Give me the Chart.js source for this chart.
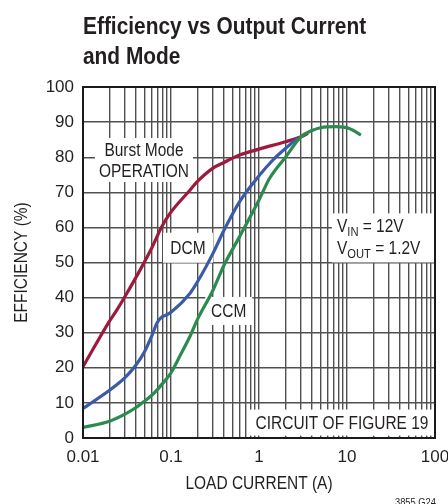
<!DOCTYPE html>
<html>
<head>
<meta charset="utf-8">
<script src="https://cdn.jsdelivr.net/npm/chart.js@4.4.1/dist/chart.umd.min.js"></script>
<style>
  html, body { margin: 0; padding: 0; background: #fff; }
  canvas { display: block; }
</style>
</head>
<body>
<canvas id="chart" width="448" height="504"></canvas>
<script>
// efficiency curves
const burstCurrent = [0.01, 0.02, 0.0243, 0.0328, 0.0446, 0.06, 0.0785, 0.0974, 0.164, 0.2, 0.3, 0.4, 0.6, 1, 2, 3, 3.6]
const burstEff = [20.3, 33.3, 36.5, 42, 47.9, 54, 60.2, 64, 70.6, 73.1, 76.9, 78.5, 80.6, 82.3, 84.4, 85.8, 86.8]

const dcmCurrent = [0.01, 0.02, 0.03, 0.04, 0.05, 0.06, 0.07, 0.08, 0.09, 0.1, 0.164, 0.2, 0.3, 0.4, 0.6, 1, 1.44, 2, 2.76]
const dcmEff = [8.4, 13.6, 17.2, 20.8, 24.6, 28.9, 33, 34.6, 35.1, 35.8, 41.2, 44.5, 52.6, 59.2, 67.3, 74.7, 79.2, 82.5, 85.4]

const ccmCurrent = [0.01, 0.02, 0.03, 0.04, 0.05, 0.06, 0.07, 0.08, 0.09, 0.1, 0.1265, 0.164, 0.2, 0.3, 0.4, 0.6, 1, 1.32, 2, 3, 4, 5, 7.5, 10.6, 14.4]
const ccmEff = [3.0, 4.8, 6.8, 8.7, 10.5, 12.1, 13.8, 15.5, 17.0, 18.6, 23.4, 28.9, 33.8, 42.1, 49.2, 57.3, 67.8, 74, 80, 85.8, 87.6, 88.4, 88.7, 88.2, 86.3]

const xDecades = [0.01, 0.1, 1, 10, 100]
const xDecadeLabels = ['0.01', '0.1', '1', '10', '100']
const yTicks = [0, 10, 20, 30, 40, 50, 60, 70, 80, 90, 100]

const titleLines = ['Efficiency vs Output Current', 'and Mode']
const xTitle = 'LOAD CURRENT (A)'
const yTitle = 'EFFICIENCY (%)'
const figureTag = '3855 G24'

const textColor = '#231f20'
const gridColor = '#505050'
const SANS = '"Liberation Sans", Arial, sans-serif'
const NARROW_X = 0.86  // the datasheet type is a narrow Helvetica

// all grid positions: 1..9 of every decade
const xGrid = []
xDecades.slice(0, -1).forEach(d => { for (let m = 1; m < 10; m++) xGrid.push(+(d * m).toPrecision(3)) })
xGrid.push(100)

const toPoints = (xs, ys) => xs.map((x, i) => ({ x, y: ys[i] }))

function drawScaled(ctx, str, x, y, font, align, sx, rot) {
    ctx.save()
    ctx.translate(x, y)
    if (rot) ctx.rotate(rot)
    ctx.scale(sx, 1)
    ctx.font = font
    ctx.textAlign = align
    ctx.textBaseline = 'alphabetic'
    ctx.fillText(str, 0, 0)
    ctx.restore()
}

// text boxes, centre given in data units, size in px
const notes = [
    { x: 0.0493, y: 79.2, w: 98, h: 44, lines: ['Burst Mode', 'OPERATION'] },
    { x: 0.156, y: 54.2, w: 50, h: 30, lines: ['DCM'] },
    { x: 0.453, y: 36.2, w: 47, h: 28, lines: ['CCM'] },
    { x: 8.77, y: 4.4, w: 186, h: 26, lines: ['CIRCUIT OF FIGURE 19'] },
]
const condBox = { x: 26.3, y: 57.0, w: 104, h: 49 }

const overlay = {
    id: 'overlay',
    beforeDatasetsDraw(chart) {
        const { ctx, scales: { x, y } } = chart
        ctx.save()
        ctx.fillStyle = '#ffffff'
        notes.concat([condBox]).forEach(n => {
            const cx = x.getPixelForValue(n.x), cy = y.getPixelForValue(n.y)
            ctx.fillRect(cx - n.w / 2, cy - n.h / 2, n.w, n.h)
        })
        ctx.restore()
    },
    afterDatasetsDraw(chart) {
        const { ctx, chartArea: a, scales: { x, y } } = chart
        ctx.save()
        ctx.strokeStyle = '#1a1a1a'
        ctx.lineWidth = 2
        ctx.strokeRect(a.left, a.top, a.right - a.left, a.bottom - a.top)
        ctx.fillStyle = textColor
        const f = '18px ' + SANS
        notes.forEach(n => {
            const cx = x.getPixelForValue(n.x), cy = y.getPixelForValue(n.y)
            const lh = 20.5
            const y0 = cy - (n.lines.length - 1) * lh / 2 + 6.5
            n.lines.forEach((l, i) => drawScaled(ctx, l, cx, y0 + i * lh, f, 'center', NARROW_X))
        })
        // VIN / VOUT block
        const bx = x.getPixelForValue(condBox.x) - condBox.w / 2 + 5
        const by = y.getPixelForValue(condBox.y)
        const conds = [['V', 'IN', ' = 12V'], ['V', 'OUT', ' = 1.2V']]
        conds.forEach((c, i) => {
            let px = bx
            const base = by - 5.5 + i * 21.5
            ctx.font = '18px ' + SANS
            drawScaled(ctx, c[0], px, base, ctx.font, 'left', NARROW_X)
            px += ctx.measureText(c[0]).width * NARROW_X
            ctx.font = '13px ' + SANS
            drawScaled(ctx, c[1], px, base + 4, ctx.font, 'left', NARROW_X)
            px += ctx.measureText(c[1]).width * NARROW_X
            ctx.font = '18px ' + SANS
            drawScaled(ctx, c[2], px, base, ctx.font, 'left', NARROW_X)
        })
        ctx.restore()
    },
    afterDraw(chart) {
        const { ctx, chartArea: a } = chart
        ctx.save()
        ctx.fillStyle = textColor
        drawScaled(ctx, titleLines[0], 83, 34, 'bold 24px ' + SANS, 'left', 0.87)
        drawScaled(ctx, titleLines[1], 83, 64, 'bold 24px ' + SANS, 'left', 0.87)
        // axis titles
        drawScaled(ctx, xTitle, (a.left + a.right) / 2, 488.5, '18px ' + SANS, 'center', NARROW_X)
        drawScaled(ctx, yTitle, 27, (a.top + a.bottom) / 2, '18px ' + SANS, 'center', NARROW_X, -Math.PI / 2)
        drawScaled(ctx, figureTag, 436, 506, '11px ' + SANS, 'right', 0.85)
        ctx.restore()
    }
}

const line = (label, data, color, order) => ({
    label, data, order,
    borderColor: color,
    backgroundColor: color,
    borderWidth: 3.2,
    pointRadius: 0,
    fill: false,
    cubicInterpolationMode: 'monotone',
})

new Chart(document.getElementById('chart').getContext('2d'), {
    type: 'line',
    data: {
        datasets: [
            line('CCM', toPoints(ccmCurrent, ccmEff), '#2b8b4f', 0),
            line('DCM', toPoints(dcmCurrent, dcmEff), '#3a5ba8', 1),
            line('Burst Mode OPERATION', toPoints(burstCurrent, burstEff), '#9d1a3c', 2),
        ]
    },
    options: {
        responsive: false,
        animation: false,
        layout: { padding: { top: 87, right: 13, left: 0, bottom: 0 } },
        plugins: { legend: { display: false }, tooltip: { enabled: false } },
        scales: {
            x: {
                type: 'logarithmic',
                min: 0.01, max: 100,
                afterBuildTicks: s => { s.ticks = xGrid.map(v => ({ value: v })) },
                afterFit: s => { s.height = 66; s.paddingLeft = 0; s.paddingRight = 0 },
                ticks: {
                    autoSkip: false, maxRotation: 0, padding: 9,
                    color: textColor,
                    font: { family: SANS, size: 17 },
                    callback: v => {
                        const i = xDecades.findIndex(d => Math.abs(Math.log10(d) - Math.log10(v)) < 1e-6)
                        return i < 0 ? '' : xDecadeLabels[i]
                    }
                },
                grid: { color: gridColor, lineWidth: 1.4, drawTicks: false },
                border: { display: false },
                title: { display: false, text: xTitle }
            },
            y: {
                min: 0, max: 100,
                afterBuildTicks: s => { s.ticks = yTicks.map(v => ({ value: v })) },
                afterFit: s => { s.width = 83; s.paddingTop = 0; s.paddingBottom = 0 },
                ticks: { padding: 9, color: textColor, font: { family: SANS, size: 17 } },
                grid: { color: gridColor, lineWidth: 1.4, drawTicks: false },
                border: { display: false },
                title: { display: false, text: yTitle }
            }
        }
    },
    plugins: [overlay]
})
</script>
</body>
</html>
